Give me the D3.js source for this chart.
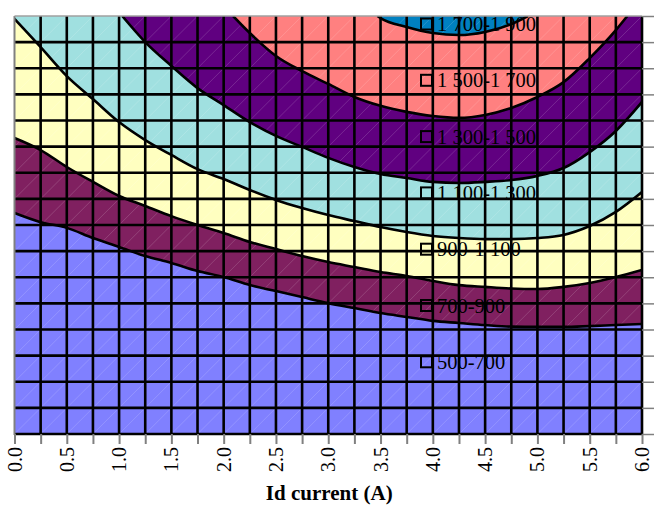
<!DOCTYPE html>
<html>
<head>
<meta charset="utf-8">
<script src="https://cdn.jsdelivr.net/npm/d3@7/dist/d3.min.js"></script>
<style>
  body { margin: 0; background: #ffffff; }
  svg { display: block; }
</style>
</head>
<body>
<script>
// Band legend (lowest to highest) and fills
const bandLabels = ["500-700", "700-900", "900-1 100", "1 100-1 300", "1 300-1 500", "1 500-1 700", "1 700-1 900"];
const bandColors = ["#8080ff", "#802060", "#ffffc0", "#a0e0e0", "#600080", "#ff8080", "#0080c0"];

// X axis: Id current (A)
const xTickLabels = ["0.0", "0.5", "1.0", "1.5", "2.0", "2.5", "3.0", "3.5", "4.0", "4.5", "5.0", "5.5", "6.0"];
const xGridStep = 0.25;
const yRows = 16;

// Contour boundaries [Id, row] — each band fills from its lower edge up to the top
const edge700 = [[0, 8.46], [0.25, 8.11], [0.5, 7.89], [0.75, 7.5], [1, 7.16], [1.25, 6.81], [1.5, 6.55], [1.75, 6.24], [2, 6.01], [2.25, 5.7], [2.5, 5.47], [2.75, 5.24], [3, 5.01], [3.25, 4.82], [3.5, 4.63], [3.75, 4.48], [4, 4.33], [4.25, 4.25], [4.5, 4.17], [4.75, 4.11], [5, 4.1], [5.25, 4.1], [5.5, 4.13], [5.75, 4.17], [6, 4.21]];
const edge900 = [[0, 11.33], [0.25, 10.87], [0.5, 10.22], [0.75, 9.65], [1, 9.11], [1.25, 8.73], [1.5, 8.34], [1.75, 8.0], [2, 7.69], [2.25, 7.35], [2.5, 7.08], [2.75, 6.81], [3, 6.58], [3.25, 6.39], [3.5, 6.2], [3.75, 6.05], [4, 5.86], [4.25, 5.7], [4.5, 5.63], [4.75, 5.57], [5, 5.55], [5.25, 5.63], [5.5, 5.78], [5.75, 6.01], [6, 6.28]];
const edge1100 = [[0, 15.89], [0.25, 14.81], [0.5, 13.7], [0.75, 12.82], [1, 11.94], [1.25, 11.25], [1.5, 10.68], [1.75, 10.14], [2, 9.76], [2.25, 9.34], [2.5, 8.96], [2.75, 8.65], [3, 8.38], [3.25, 8.15], [3.5, 7.92], [3.75, 7.73], [4, 7.58], [4.25, 7.5], [4.5, 7.46], [4.75, 7.46], [5, 7.5], [5.25, 7.62], [5.5, 7.96], [5.75, 8.5], [6, 9.26]];
const edge1300 = [[1.03, 16], [1.25, 15.0], [1.5, 14.09], [1.75, 13.24], [2, 12.59], [2.25, 11.94], [2.5, 11.41], [2.75, 10.99], [3, 10.57], [3.25, 10.22], [3.5, 9.95], [3.75, 9.8], [4, 9.65], [4.25, 9.61], [4.5, 9.65], [4.75, 9.72], [5, 9.88], [5.25, 10.18], [5.5, 10.79], [5.75, 11.6], [6, 12.71]];
const edge1500 = [[2.09, 16], [2.25, 15.35], [2.5, 14.47], [2.75, 13.89], [3, 13.4], [3.25, 12.9], [3.5, 12.56], [3.75, 12.33], [4, 12.17], [4.25, 12.1], [4.5, 12.21], [4.75, 12.48], [5, 12.9], [5.25, 13.47], [5.5, 14.39], [5.75, 15.46], [5.86, 16]];
const edge1700 = [[3.47, 16], [3.5, 15.92], [3.75, 15.58], [4, 15.35], [4.25, 15.27], [4.5, 15.39], [4.75, 15.69], [4.91, 16]];
const edges = [edge700, edge900, edge1100, edge1300, edge1500, edge1700];

const W = 654, H = 508;
const plot = { left: 14.5, right: 642, top: 16, bottom: 434 };

const x = d3.scaleLinear().domain([0, 6]).range([plot.left, plot.right]);
const y = d3.scaleLinear().domain([0, yRows]).range([plot.bottom, plot.top]);

const svg = d3.select("body").append("svg")
  .attr("width", W).attr("height", H)
  .style("font-family", "'Liberation Serif', 'Times New Roman', serif");

svg.append("defs").append("clipPath").attr("id", "plot-clip")
  .append("rect")
  .attr("x", plot.left).attr("y", plot.top)
  .attr("width", plot.right - plot.left).attr("height", plot.bottom - plot.top);

const g = svg.append("g").attr("clip-path", "url(#plot-clip)");

// Lowest band fills the whole area
g.append("rect")
  .attr("x", plot.left).attr("y", plot.top)
  .attr("width", plot.right - plot.left).attr("height", plot.bottom - plot.top)
  .attr("fill", bandColors[0]);

const curve = d3.curveMonotoneX;
const area = d3.area()
  .x(d => x(d[0]))
  .y0(y(yRows))
  .y1(d => y(d[1]))
  .curve(curve);
const line = d3.line()
  .x(d => x(d[0]))
  .y(d => y(d[1]))
  .curve(curve);

edges.forEach((edge, i) => {
  g.append("path").datum(edge)
    .attr("d", area)
    .attr("fill", bandColors[i + 1]);
});

// Faint cell diagonals over the surface
const xCells = d3.range(0, 6, xGridStep);
const yCells = d3.range(0, yRows, 1);
const diag = g.append("g")
  .attr("stroke", "#ffffff").attr("stroke-opacity", 0.22).attr("stroke-width", 0.7);
xCells.forEach(cx => {
  yCells.forEach(cy => {
    diag.append("line")
      .attr("x1", x(cx)).attr("y1", y(cy))
      .attr("x2", x(cx + xGridStep)).attr("y2", y(cy + 1));
  });
});

// Contour lines
edges.forEach(edge => {
  g.append("path").datum(edge)
    .attr("d", line)
    .attr("fill", "none")
    .attr("stroke", "#000")
    .attr("stroke-width", 2.6);
});

// Grid
const xGrid = d3.range(xGridStep, 6 + 1e-9, xGridStep);
const yGrid = d3.range(0, yRows, 1);
const grid = svg.append("g").attr("stroke", "#000").attr("stroke-width", 2.6);
xGrid.forEach(v => {
  grid.append("line")
    .attr("x1", x(v)).attr("x2", x(v))
    .attr("y1", plot.top).attr("y2", plot.bottom);
});
yGrid.forEach(v => {
  grid.append("line")
    .attr("x1", plot.left).attr("x2", plot.right)
    .attr("y1", y(v)).attr("y2", y(v));
});

// Left and top frame lines
svg.append("line")
  .attr("x1", plot.left).attr("x2", plot.left)
  .attr("y1", plot.top).attr("y2", plot.bottom + 1)
  .attr("stroke", "#808080").attr("stroke-width", 2);
svg.append("line")
  .attr("x1", plot.left).attr("x2", plot.right)
  .attr("y1", plot.top).attr("y2", plot.top)
  .attr("stroke", "#a0a0a0").attr("stroke-width", 1.5);

// Bottom axis ticks
const xAxis = d3.axisBottom(x)
  .tickValues(d3.range(0, 6 + 1e-9, xGridStep))
  .tickSize(10)
  .tickFormat("");
const xAxisG = svg.append("g")
  .attr("transform", `translate(0,${plot.bottom})`)
  .call(xAxis);
xAxisG.select(".domain").remove();
xAxisG.selectAll(".tick line").attr("stroke", "#808080").attr("stroke-width", 2);

// Right axis ticks
const yAxis = d3.axisRight(y)
  .tickValues(d3.range(0, yRows + 1, 1))
  .tickSize(12)
  .tickFormat("");
const yAxisG = svg.append("g")
  .attr("transform", `translate(${plot.right},0)`)
  .call(yAxis);
yAxisG.select(".domain").remove();
yAxisG.selectAll(".tick line").attr("stroke", "#808080").attr("stroke-width", 1.5);

// Rotated x tick labels
svg.append("g").selectAll("text")
  .data(xTickLabels)
  .join("text")
  .attr("transform", d => `translate(${x(+d)},447) rotate(-90)`)
  .attr("text-anchor", "end")
  .attr("dy", "0.35em")
  .attr("font-size", 20)
  .attr("fill", "#000")
  .text(d => d);

// Axis title
svg.append("text")
  .attr("x", (plot.left + plot.right) / 2 + 1)
  .attr("y", 500)
  .attr("text-anchor", "middle")
  .attr("font-size", 21)
  .attr("font-weight", "bold")
  .attr("fill", "#000")
  .text("Id current (A)");

// Legend, highest band first
const legendItems = bandLabels.slice().reverse();
const legend = svg.append("g").attr("transform", "translate(420,0)");
legendItems.forEach((label, i) => {
  const cy = 24 + i * 56.3;
  legend.append("rect")
    .attr("x", 1).attr("y", cy - 5.5)
    .attr("width", 11).attr("height", 11)
    .attr("fill", "none")
    .attr("stroke", "#000").attr("stroke-width", 2);
  legend.append("text")
    .attr("x", 17).attr("y", cy + 7)
    .attr("font-size", 20.5)
    .attr("fill", "#000")
    .text(label);
});
</script>
</body>
</html>
